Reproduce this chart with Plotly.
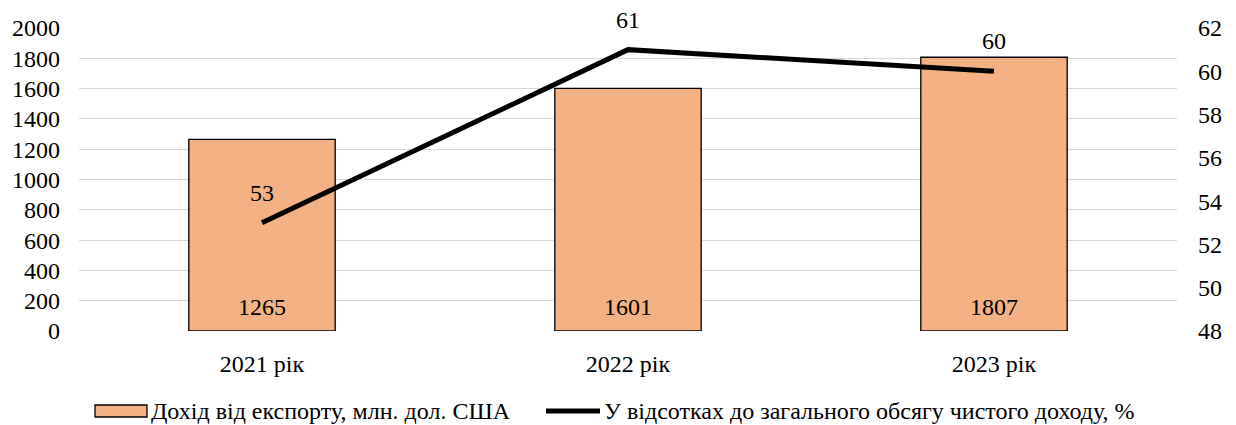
import plotly.graph_objects as go

# Export revenue and its share of total net income, by year
years = ["2021 рік", "2022 рік", "2023 рік"]
export_revenue = [1265, 1601, 1807]
share_percent = [53, 61, 60]

bar_name = "Дохід від експорту, млн. дол. США"
line_name = "У відсотках до загального обсягу чистого доходу, %"

FONT = "Liberation Serif, Times New Roman, serif"
FS = 24
BAR_COLOR = "#F4B183"

fig = go.Figure()

fig.add_trace(go.Bar(
    x=years, y=export_revenue, name=bar_name,
    marker=dict(color=BAR_COLOR, line=dict(color="#000000", width=1.3)),
    showlegend=False, hoverinfo="x+y",
))

fig.add_trace(go.Scatter(
    x=years, y=share_percent, name=line_name, yaxis="y2",
    mode="lines", line=dict(color="#000000", width=5),
    showlegend=False,
))

annotations = []
# value labels at the base of each bar
for c, v in zip(years, export_revenue):
    annotations.append(dict(x=c, y=0, xref="x", yref="y", text=str(v),
                            showarrow=False, yshift=24,
                            font=dict(family=FONT, size=FS, color="#000")))
# value labels above each line point
for c, v in zip(years, share_percent):
    annotations.append(dict(x=c, y=v, xref="x", yref="y2", text=str(v),
                            showarrow=False, yshift=30,
                            font=dict(family=FONT, size=FS, color="#000")))

# legend drawn beneath the plot
shapes = [
    dict(type="rect", xref="paper", yref="paper",
         x0=(95 - 79) / 1098, x1=(147 - 79) / 1098,
         y0=-(417 - 331) / 303, y1=-(405 - 331) / 303,
         fillcolor=BAR_COLOR, line=dict(color="#000", width=1.3)),
    dict(type="line", xref="paper", yref="paper",
         x0=(546 - 79) / 1098, x1=(600 - 79) / 1098,
         y0=-(411 - 331) / 303, y1=-(411 - 331) / 303,
         line=dict(color="#000", width=5)),
]
annotations.append(dict(x=(149 - 79) / 1098, y=-(411 - 331) / 303,
                        xref="paper", yref="paper", text=bar_name,
                        showarrow=False, xanchor="left", yanchor="middle",
                        font=dict(family=FONT, size=FS, color="#000")))
annotations.append(dict(x=(602 - 79) / 1098, y=-(411 - 331) / 303,
                        xref="paper", yref="paper", text=line_name,
                        showarrow=False, xanchor="left", yanchor="middle",
                        font=dict(family=FONT, size=FS, color="#000")))

fig.update_layout(
    width=1236, height=425,
    margin=dict(l=79, r=59, t=28, b=94),
    paper_bgcolor="white", plot_bgcolor="white",
    font=dict(family=FONT, size=FS, color="#000"),
    bargap=0.6,
    showlegend=False,
    annotations=annotations,
    shapes=shapes,
    xaxis=dict(showgrid=False, showline=False, zeroline=False,
               tickfont=dict(family=FONT, size=FS, color="#000"),
               ticklabelstandoff=16),
    yaxis=dict(range=[0, 2000], dtick=200, showgrid=True,
               gridcolor="#D9D9D9", gridwidth=1.3, zeroline=False,
               showline=False,
               tickfont=dict(family=FONT, size=FS, color="#000"),
               ticklabelstandoff=18),
    yaxis2=dict(range=[48, 62], dtick=2, overlaying="y", side="right",
                showgrid=False, zeroline=False, showline=False,
                tickfont=dict(family=FONT, size=FS, color="#000"),
                ticklabelstandoff=20),
)

fig.write_html("out.html")
